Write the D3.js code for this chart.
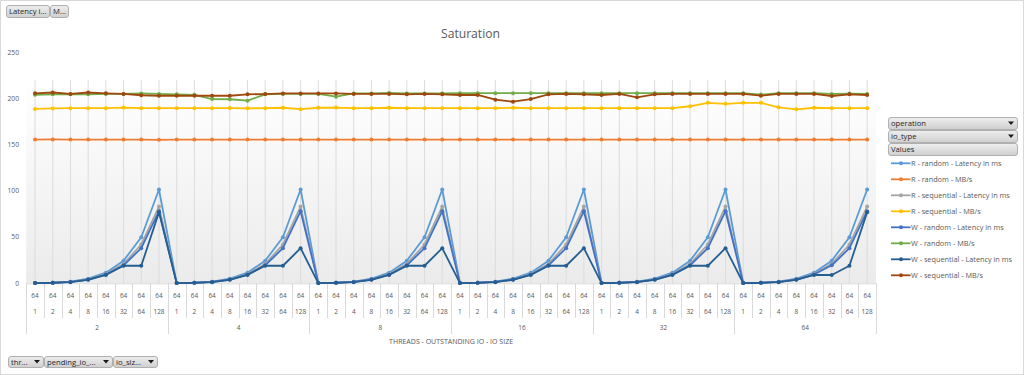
<!DOCTYPE html>
<html><head><meta charset="utf-8">
<script src="https://cdn.jsdelivr.net/npm/d3@7"></script>
<style>
html,body{margin:0;padding:0;background:#fff;}
svg{display:block;font-family:"Open Sans",sans-serif;}
</style></head>
<body>
<svg id="chart" width="1024" height="375"></svg>
<script>
// ---------- DATA ----------
const threads = [2, 4, 8, 16, 32, 64];
const outstanding = [1, 2, 4, 8, 16, 32, 64, 128];
const ioSize = 64;
const yTicks = [0, 50, 100, 150, 200, 250];
const seriesNames = [
  "R - random - Latency in ms", "R - random - MB/s",
  "R - sequential - Latency in ms", "R - sequential - MB/s",
  "W - random - Latency in ms", "W - random - MB/s",
  "W - sequential - Latency in ms", "W - sequential - MB/s"
];
const seriesColors = ["#5B9BD5", "#ED7D31", "#A5A5A5", "#FFC000", "#4472C4", "#70AD47", "#255E91", "#9E480E"];

const rRandomLatency = [
  0.2, 0.6, 1.8, 5, 11.5, 24.5, 49.8, 101.5,
  0.2, 0.6, 1.8, 5, 11.5, 24.5, 49.8, 101.5,
  0.2, 0.6, 1.8, 5, 11.5, 24.5, 49.8, 101.5,
  0.2, 0.6, 1.8, 5, 11.5, 24.5, 49.8, 101.5,
  0.2, 0.6, 1.8, 5, 11.5, 24.5, 49.8, 101.5,
  0.2, 0.6, 1.8, 5, 11.5, 24.5, 49.8, 101.5
];
const rRandomMB = [
  155.6, 155.7, 155.6, 155.6, 155.6, 155.6, 155.6, 155.3,
  155.6, 155.6, 155.6, 155.6, 155.6, 155.6, 155.6, 155.6,
  155.6, 155.6, 155.6, 155.6, 155.6, 155.6, 155.6, 155.6,
  155.6, 155.6, 155.6, 155.6, 155.6, 155.6, 155.6, 155.6,
  155.6, 155.6, 155.6, 155.6, 155.6, 155.6, 155.6, 155.6,
  155.6, 155.6, 155.6, 155.6, 155.6, 155.6, 155.6, 155.6
];
const rSeqLatency = [
  0.2, 0.6, 1.6, 4.3, 10, 21, 42, 83,
  0.2, 0.6, 1.6, 4.3, 10, 21, 42, 83,
  0.2, 0.6, 1.6, 4.3, 10, 21, 42, 83,
  0.2, 0.6, 1.6, 4.3, 10, 21, 42, 83,
  0.2, 0.6, 1.6, 4.3, 10, 21, 42, 83,
  0.2, 0.6, 1.6, 4.3, 10, 21, 42, 83
];
const rSeqMB = [
  188.7, 189.3, 189.5, 189.5, 189.5, 190.2, 189.5, 189.5,
  189.5, 189.5, 189.5, 189.6, 189.4, 189.5, 190, 188.5,
  190, 190.2, 189.5, 189.5, 190, 189.5, 189.5, 189.5,
  189.5, 189.5, 189.5, 190, 189.5, 189.5, 189.5, 189.5,
  189.5, 189.5, 189.5, 189.5, 189.5, 191.6, 195.3, 194.2,
  195.3, 195.3, 190.5, 188.3, 190, 189.5, 189.5, 189.5
];
const wRandomLatency = [
  0.2, 0.6, 1.5, 4, 9.5, 19.5, 38, 78,
  0.2, 0.6, 1.5, 4, 9.5, 19.5, 38, 78,
  0.2, 0.6, 1.5, 4, 9.5, 19.5, 38, 78,
  0.2, 0.6, 1.5, 4, 9.5, 19.5, 38, 78,
  0.2, 0.6, 1.5, 4, 9.5, 19.5, 38, 78,
  0.2, 0.6, 1.5, 4, 9.5, 19.5, 38, 78
];
const wRandomMB = [
  204, 204.5, 204.5, 204.5, 205, 205, 205.5, 205,
  204.5, 204, 199.4, 199.2, 197.6, 204.5, 205, 205,
  205, 202, 205.5, 205.5, 206, 205.5, 205.5, 205.5,
  205.8, 205.8, 205.8, 205.8, 205.8, 205.8, 205.8, 205.8,
  205.8, 205.8, 205.8, 205.8, 205.8, 205.8, 205.8, 205.8,
  205.8, 204.2, 205.8, 205.8, 205.8, 205, 205.3, 205
];
const wSeqLatency = [
  0.2, 0.5, 1.2, 3.8, 9, 19, 19, 77,
  0.2, 0.5, 1.2, 3.8, 9, 19, 19, 38,
  0.2, 0.5, 1.2, 3.8, 9, 19, 19, 38,
  0.2, 0.5, 1.2, 3.8, 9, 19, 19, 38,
  0.2, 0.5, 1.2, 3.8, 9, 19, 19, 38,
  0.2, 0.5, 1.2, 3.8, 9, 9, 19, 77
];
const wSeqMB = [
  205.6, 206.5, 205, 206.5, 205.6, 205, 203.5, 203,
  203, 203, 203, 203, 204.5, 204.8, 205.5, 205.5,
  205.5, 205.5, 205, 205, 205, 204.5, 205, 204.5,
  203.8, 203.8, 198.7, 196.5, 199.4, 204.5, 204.9, 204.5,
  203.8, 204.9, 201.3, 204.5, 204.9, 204.9, 204.9, 204.9,
  204.9, 203.1, 204.9, 204.9, 204.9, 202.7, 204.5, 203.8
];
const seriesValues = [rRandomLatency, rRandomMB, rSeqLatency, rSeqMB, wRandomLatency, wRandomMB, wSeqLatency, wSeqMB];

// ---------- CHART ----------
const svg = d3.select("#chart");
const textColor = "#595959";
const categories = [];
threads.forEach(t => outstanding.forEach(o => categories.push({t, o, s: ioSize})));
const N = categories.length;

const x = d3.scaleBand().domain(d3.range(N)).range([26.2, 876]);
const y = d3.scaleLinear().domain([0, 250]).range([283.3, 52.3]);
const cx = i => x(i) + x.bandwidth() / 2;

// scale a text selection's font size so that its first node has the target width
function fit(sel, target) {
  const n = sel.node();
  const fs = parseFloat(sel.attr("font-size"));
  const w = n.getComputedTextLength();
  if (w > 0) sel.attr("font-size", (fs * target / w).toFixed(2));
  return sel;
}

const defs = svg.append("defs");
const grad = defs.append("linearGradient").attr("id", "bg").attr("x1", 0).attr("y1", 0).attr("x2", 0).attr("y2", 1);
grad.append("stop").attr("offset", "0%").attr("stop-color", "#ffffff");
grad.append("stop").attr("offset", "100%").attr("stop-color", "#ebebeb");
const bgrad = defs.append("linearGradient").attr("id", "btn").attr("x1", 0).attr("y1", 0).attr("x2", 0).attr("y2", 1);
bgrad.append("stop").attr("offset", "0%").attr("stop-color", "#eeeeee");
bgrad.append("stop").attr("offset", "100%").attr("stop-color", "#cfcfcf");

// outer border
svg.append("rect").attr("x", 0.5).attr("y", 0.5).attr("width", 1023).attr("height", 374)
  .attr("fill", "#fff").attr("stroke", "#d9d9d9");

// plot background
const plotTop = y(220);
svg.append("rect").attr("x", x.range()[0]).attr("y", plotTop)
  .attr("width", x.range()[1] - x.range()[0]).attr("height", y(0) - plotTop)
  .attr("fill", "url(#bg)");

// vertical gridlines
svg.append("g").selectAll("line").data(d3.range(N)).join("line")
  .attr("x1", d => cx(d)).attr("x2", d => cx(d))
  .attr("y1", plotTop).attr("y2", y(0))
  .attr("stroke", "#dcdcdc").attr("stroke-width", 1);

// x axis line
svg.append("line").attr("x1", x.range()[0]).attr("x2", x.range()[1])
  .attr("y1", y(0) + 0.5).attr("y2", y(0) + 0.5).attr("stroke", "#d9d9d9");

// y axis labels
const yl = svg.append("g").selectAll("text").data(yTicks).join("text")
  .attr("x", 19).attr("y", d => y(d)).attr("dy", "0.35em")
  .attr("text-anchor", "end").attr("font-size", 7.5).attr("fill", textColor)
  .text(d => d);
const ylTop = yl.filter(d => d === 250);
{ const w = ylTop.node().getComputedTextLength(); yl.attr("font-size", (7.5 * 11.6 / w).toFixed(2)); }

// category label separators
const sep = svg.append("g").attr("stroke", "#d9d9d9").attr("stroke-width", 1);
for (let i = 0; i <= N; i++) {
  const xx = Math.round(i < N ? x(i) : x.range()[1]) + 0.5;
  const isGroup = i % outstanding.length === 0;
  sep.append("line").attr("x1", xx).attr("x2", xx).attr("y1", y(0)).attr("y2", isGroup ? 334 : 318);
}
// row 1: io size
const r1 = svg.append("g").selectAll("text").data(categories).join("text")
  .attr("x", (d, i) => cx(i)).attr("y", 297.5).attr("text-anchor", "middle")
  .attr("font-size", 7).attr("fill", textColor).text(d => d.s);
{ const w = r1.node().getComputedTextLength(); r1.attr("font-size", (7 * 7.4 / w).toFixed(2)); }
const catFs = r1.attr("font-size");
// row 2: outstanding io
svg.append("g").selectAll("text").data(categories).join("text")
  .attr("x", (d, i) => cx(i)).attr("y", 313.5).attr("text-anchor", "middle")
  .attr("font-size", catFs).attr("fill", textColor).text(d => d.o);
// row 3: threads
svg.append("g").selectAll("text").data(threads).join("text")
  .attr("x", (d, g) => (cx(g * outstanding.length) + cx(g * outstanding.length + outstanding.length - 1)) / 2)
  .attr("y", 329.5).attr("text-anchor", "middle")
  .attr("font-size", catFs).attr("fill", textColor).text(d => d);
// axis title
fit(svg.append("text").attr("x", (x.range()[0] + x.range()[1]) / 2).attr("y", 343.5)
  .attr("text-anchor", "middle").attr("font-size", 6.5).attr("fill", textColor)
  .text("THREADS - OUTSTANDING IO - IO SIZE"), 124);

// title
fit(svg.append("text").attr("x", 470.5).attr("y", 38).attr("text-anchor", "middle")
  .attr("font-size", 12.5).attr("fill", textColor).text("Saturation"), 59);

// series lines
const line = d3.line().x((d, i) => cx(i)).y(d => y(d));
seriesValues.forEach((vals, si) => {
  const g = svg.append("g");
  g.append("path").datum(vals).attr("d", line).attr("fill", "none")
    .attr("stroke", seriesColors[si]).attr("stroke-width", 1.8).attr("stroke-linejoin", "round");
  g.selectAll("circle").data(vals).join("circle")
    .attr("cx", (d, i) => cx(i)).attr("cy", d => y(d)).attr("r", 2)
    .attr("fill", seriesColors[si]);
});

// buttons
let btnFs = null;
function button(x0, y0, w, h, label, arrow) {
  const g = svg.append("g");
  g.append("rect").attr("x", x0 + 0.5).attr("y", y0 + 0.5).attr("width", w).attr("height", h)
    .attr("rx", 2.5).attr("fill", "url(#btn)").attr("stroke", "#b0b0b0");
  const t = g.append("text").attr("x", x0 + 3).attr("y", y0 + h / 2 + 0.5).attr("dy", "0.35em")
    .attr("font-size", 7).attr("fill", "#262626").text(label);
  if (arrow) {
    const ax = x0 + w - 6, ay = y0 + h / 2;
    g.append("path").attr("d", `M${ax - 3},${ay - 1.5}L${ax + 3},${ay - 1.5}L${ax},${ay + 2}Z`).attr("fill", "#1a1a1a");
  }
  return t;
}
const bOp = button(888, 117, 129, 12, "operation", true);
{ const w = bOp.node().getComputedTextLength(); btnFs = (7 * 35 / w).toFixed(2); }
bOp.attr("font-size", btnFs);
button(888, 130, 129, 12, "io_type", true).attr("font-size", btnFs);
button(888, 143, 129, 12, "Values", false).attr("font-size", btnFs);
button(6, 5, 43, 12, "Latency i...", false).attr("font-size", btnFs);
button(50, 5, 18, 12, "M...", false).attr("font-size", btnFs);
button(8, 356, 35, 11, "thr...", true).attr("font-size", btnFs);
button(44, 356, 68, 11, "pending_io_...", true).attr("font-size", btnFs);
button(113, 356, 44, 11, "io_siz...", true).attr("font-size", btnFs);

// legend
const leg = svg.append("g").selectAll("g").data(seriesNames).join("g")
  .attr("transform", (d, i) => `translate(891,${163.3 + i * 16})`);
leg.append("line").attr("x1", 0).attr("x2", 19.5).attr("y1", 0).attr("y2", 0)
  .attr("stroke", (d, i) => seriesColors[i]).attr("stroke-width", 1.8);
leg.append("circle").attr("cx", 10).attr("cy", 0).attr("r", 2).attr("fill", (d, i) => seriesColors[i]);
const lt = leg.append("text").attr("x", 20).attr("y", 0).attr("dy", "0.35em").attr("font-size", 7)
  .attr("fill", textColor).text(d => d);
{ const w = lt.node().getComputedTextLength(); lt.attr("font-size", (7 * 90.5 / w).toFixed(2)); }
</script>
</body></html>
